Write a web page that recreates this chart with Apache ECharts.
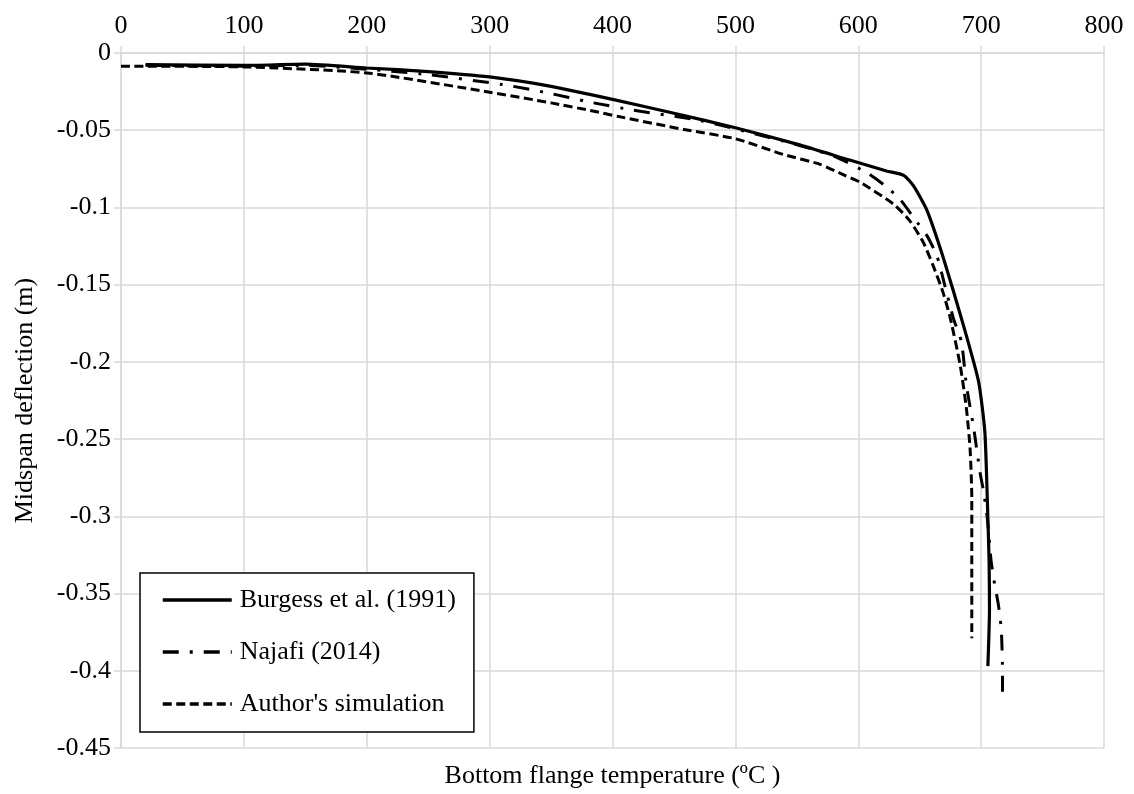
<!DOCTYPE html>
<html>
<head>
<meta charset="utf-8">
<script src="https://cdn.jsdelivr.net/npm/echarts@6/dist/echarts.min.js"></script>
<style>html,body{margin:0;padding:0;background:#fff;}#c{width:1134px;height:794px;}</style>
</head>
<body>
<div id="c"></div>
<script>
// Burgess et al. (1991) - solid
const burgessX = [20, 100, 150, 200, 250, 300, 350, 400, 450, 500, 550, 593, 623, 637, 645, 656, 667, 677, 688, 698, 703, 705, 706.5, 706.8, 705.5];
const burgessY = [-0.0075, -0.008, -0.0072, -0.0097, -0.012, -0.0155, -0.0216, -0.030, -0.039, -0.0484, -0.059, -0.0693, -0.0764, -0.0792, -0.0861, -0.102, -0.127, -0.153, -0.183, -0.213, -0.245, -0.288, -0.33, -0.36, -0.397];
// Najafi (2014) - dash-dot
const najafiX = [20, 100, 150, 200, 250, 311, 347, 382, 417, 471, 539, 580, 607, 622, 634, 646, 656, 664, 669, 677.5, 684, 688, 694, 699, 702, 705, 708, 711, 714, 716.3, 717, 717.4, 717.4];
const najafiY = [-0.008, -0.0085, -0.008, -0.0105, -0.014, -0.0205, -0.0258, -0.0319, -0.037, -0.0437, -0.057, -0.0667, -0.0775, -0.0861, -0.0947, -0.1076, -0.1184, -0.1313, -0.146, -0.172, -0.187, -0.215, -0.243, -0.271, -0.284, -0.301, -0.328, -0.344, -0.357, -0.372, -0.385, -0.400, -0.414];
// Author's simulation - dashed
const authorX = [0, 100, 200, 300, 350, 385, 404, 458, 500, 539, 569, 589, 602, 629, 642, 653, 661, 669, 675, 683, 688, 691, 692.4, 692.4, 692.4];
const authorY = [-0.0085, -0.009, -0.0129, -0.0254, -0.0323, -0.0377, -0.041, -0.0495, -0.0555, -0.0657, -0.0721, -0.0792, -0.0839, -0.098, -0.1087, -0.1227, -0.1378, -0.155, -0.172, -0.2023, -0.230, -0.256, -0.288, -0.33, -0.379];

const seriesNames = ["Burgess et al. (1991)", "Najafi (2014)", "Author's simulation"];
const xTitle = "Bottom flange temperature (ºC )";
const yTitle = "Midspan deflection (m)";

function pairs(xs, ys) { return xs.map((x, i) => [x, ys[i]]); }

const FONT = "'Liberation Serif', 'Times New Roman', serif";
const FS = 26;
const chart = echarts.init(document.getElementById('c'), null, { renderer: 'canvas' });
chart.setOption({
  animation: false,
  backgroundColor: '#fff',
  textStyle: { fontFamily: FONT, color: '#000' },
  grid: { left: 121, right: 30, top: 53, bottom: 44, containLabel: false },
  legend: {
    orient: 'vertical', left: 140, top: 573,
    padding: [14, 18, 15, 21],
    itemGap: 26, itemWidth: 69, itemHeight: 26,
    borderColor: '#000', borderWidth: 1.5, backgroundColor: '#fff',
    itemStyle: { opacity: 0 },
    lineStyle: { width: 3.5 },
    textStyle: { fontFamily: FONT, fontSize: FS, color: '#000', padding: [0, 0, 0, 3] },
    data: seriesNames
  },
  xAxis: [{
    type: 'value', min: 0, max: 800, interval: 100, position: 'top',
    axisLine: { show: true, lineStyle: { color: '#d9d9d9', width: 1.5 } },
    axisTick: { show: true, length: 7, lineStyle: { color: '#d9d9d9', width: 1.5 } },
    axisLabel: { fontFamily: FONT, fontSize: FS, color: '#000', margin: 14 },
    splitLine: { show: true, lineStyle: { color: '#d9d9d9', width: 1.5 } }
  }, {
    type: 'value', min: 0, max: 800, position: 'bottom',
    axisLine: { show: false }, axisTick: { show: false }, axisLabel: { show: false }, splitLine: { show: false },
    name: xTitle, nameLocation: 'middle', nameGap: 15,
    nameTextStyle: { fontFamily: FONT, fontSize: FS, color: '#000' }
  }],
  yAxis: {
    type: 'value', min: -0.45, max: 0, interval: 0.05,
    axisLine: { show: true, lineStyle: { color: '#d9d9d9', width: 1.5 } },
    axisTick: { show: true, length: 7, lineStyle: { color: '#d9d9d9', width: 1.5 } },
    axisLabel: { fontFamily: FONT, fontSize: FS, color: '#000', margin: 10 },
    splitLine: { show: true, lineStyle: { color: '#d9d9d9', width: 1.5 } },
    name: yTitle, nameLocation: 'middle', nameGap: 83,
    nameTextStyle: { fontFamily: FONT, fontSize: FS, color: '#000' }
  },
  series: [
    { name: seriesNames[0], type: 'line', xAxisIndex: 0, data: pairs(burgessX, burgessY), symbol: 'none', smooth: 0.2,
      lineStyle: { color: '#000', width: 3.2, type: 'solid' }, itemStyle: { color: '#000' } },
    { name: seriesNames[1], type: 'line', xAxisIndex: 0, data: pairs(najafiX, najafiY), symbol: 'none', smooth: 0.2,
      lineStyle: { color: '#000', width: 3, type: [16, 11, 3, 11] }, itemStyle: { color: '#000' } },
    { name: seriesNames[2], type: 'line', xAxisIndex: 0, data: pairs(authorX, authorY), symbol: 'none', smooth: 0.2,
      lineStyle: { color: '#000', width: 3, type: [9, 4.5] }, itemStyle: { color: '#000' } }
  ]
});
</script>
</body>
</html>
